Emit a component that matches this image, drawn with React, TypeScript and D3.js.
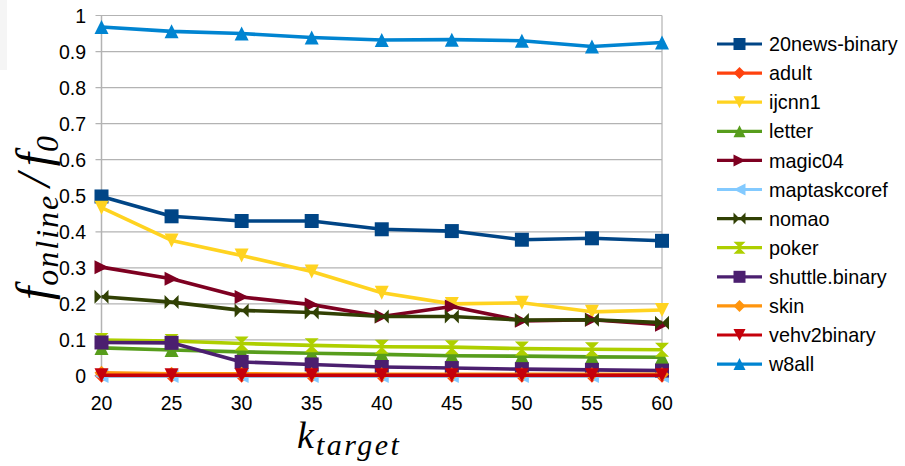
import React from "react";
import * as d3 from "d3";

const kTargets = [20, 25, 30, 35, 40, 45, 50, 55, 60];
const yTicks = [0, 0.1, 0.2, 0.3, 0.4, 0.5, 0.6, 0.7, 0.8, 0.9, 1];

const news20 = [0.498, 0.443, 0.43, 0.43, 0.407, 0.402, 0.378, 0.382, 0.375];
const adult = [0.001, 0.001, 0.001, 0.001, 0.001, 0.001, 0.001, 0.001, 0.001];
const ijcnn1 = [0.467, 0.376, 0.334, 0.29, 0.231, 0.2, 0.203, 0.178, 0.183];
const letter = [0.078, 0.072, 0.067, 0.063, 0.06, 0.056, 0.055, 0.053, 0.052];
const magic04 = [0.302, 0.27, 0.219, 0.198, 0.165, 0.193, 0.153, 0.156, 0.142];
const maptaskcoref = [0, 0, 0, 0, 0, 0, 0, 0, 0];
const nomao = [0.22, 0.205, 0.182, 0.176, 0.165, 0.165, 0.155, 0.156, 0.148];
const poker = [0.1, 0.097, 0.09, 0.085, 0.081, 0.08, 0.076, 0.074, 0.073];
const shuttle = [0.093, 0.092, 0.039, 0.032, 0.025, 0.022, 0.019, 0.017, 0.015];
const skin = [0.009, 0.006, 0.006, 0.005, 0.005, 0.005, 0.005, 0.005, 0.005];
const vehv2binary = [0.002, 0.002, 0.002, 0.002, 0.002, 0.002, 0.002, 0.002, 0.002];
const w8all = [0.968, 0.956, 0.95, 0.939, 0.932, 0.933, 0.93, 0.914, 0.925];

type Shape = "square" | "diamond" | "triDown" | "triUp" | "triRight" | "triLeft" | "bowtieH" | "bowtieV";

const series: { name: string; values: number[]; color: string; shape: Shape }[] = [
  { name: "20news-binary", values: news20, color: "#004586", shape: "square" },
  { name: "adult", values: adult, color: "#ff420e", shape: "diamond" },
  { name: "ijcnn1", values: ijcnn1, color: "#ffd320", shape: "triDown" },
  { name: "letter", values: letter, color: "#579d1c", shape: "triUp" },
  { name: "magic04", values: magic04, color: "#7e0021", shape: "triRight" },
  { name: "maptaskcoref", values: maptaskcoref, color: "#83caff", shape: "triLeft" },
  { name: "nomao", values: nomao, color: "#314004", shape: "bowtieH" },
  { name: "poker", values: poker, color: "#aecf00", shape: "bowtieV" },
  { name: "shuttle.binary", values: shuttle, color: "#4b1f6f", shape: "square" },
  { name: "skin", values: skin, color: "#ff950e", shape: "diamond" },
  { name: "vehv2binary", values: vehv2binary, color: "#c5000b", shape: "triDown" },
  { name: "w8all", values: w8all, color: "#0084d1", shape: "triUp" },
];

function markerPath(shape: Shape, s: number): string {
  const h = s / 2;
  switch (shape) {
    case "square":
      return `M${-h},${-h}H${h}V${h}H${-h}Z`;
    case "diamond":
      return `M0,${-h}L${h},0L0,${h}L${-h},0Z`;
    case "triDown":
      return `M${-h},${-h}H${h}L0,${h}Z`;
    case "triUp":
      return `M${-h},${h}H${h}L0,${-h}Z`;
    case "triRight":
      return `M${-h},${-h}L${h},0L${-h},${h}Z`;
    case "triLeft":
      return `M${h},${-h}L${-h},0L${h},${h}Z`;
    case "bowtieH":
      return `M${-h},${-h}L0,0L${-h},${h}ZM${h},${-h}L0,0L${h},${h}Z`;
    case "bowtieV":
      return `M${-h},${-h}H${h}L0,0ZM${-h},${h}H${h}L0,0Z`;
  }
}

const W = 905;
const H = 466;
const left = 101.5;
const right = 662;
const top = 15.5;
const bottom = 376;

export default function App() {
  const x = d3.scaleLinear().domain([20, 60]).range([left, right]);
  const y = d3.scaleLinear().domain([0, 1]).range([bottom, top]);
  const line = d3
    .line<number>()
    .x((_, i) => x(kTargets[i]))
    .y((v) => y(v));

  const font = "'Liberation Sans', Arial, sans-serif";
  const mathFont = "'Liberation Serif', 'Times New Roman', serif";
  const legendX = 717;
  const legendY0 = 44;
  const legendStep = 29.1;

  return (
    <svg
      width={W}
      height={H}
      style={{ position: "fixed", left: 0, top: 0, background: "#fff" }}
      xmlns="http://www.w3.org/2000/svg"
    >
      <rect x={0} y={0} width={W} height={H} fill="#fff" />
      <rect x={0} y={0} width={7} height={70} fill="#f5f5f5" />

      {/* grid and y ticks */}
      {yTicks.map((t) => (
        <g key={t}>
          <line x1={left - 6} x2={right} y1={y(t)} y2={y(t)} stroke="#b3b3b3" strokeWidth={1.2} />
          <text
            x={86}
            y={y(t)}
            dy="0.36em"
            textAnchor="end"
            fontFamily={font}
            fontSize={19.5}
            fill="#000"
          >
            {d3.format("")(t)}
          </text>
        </g>
      ))}
      <line x1={left} x2={left} y1={top} y2={bottom} stroke="#b3b3b3" strokeWidth={1.5} />
      <line x1={right} x2={right} y1={top} y2={bottom} stroke="#b3b3b3" strokeWidth={1.2} />

      {/* x tick labels */}
      {kTargets.map((k) => (
        <text
          key={k}
          x={x(k)}
          y={410}
          textAnchor="middle"
          fontFamily={font}
          fontSize={19.5}
          fill="#000"
        >
          {k}
        </text>
      ))}

      {/* series */}
      {series.map((s) => (
        <g key={s.name}>
          <path d={line(s.values) || ""} fill="none" stroke={s.color} strokeWidth={3.6} strokeLinejoin="round" />
          {s.values.map((v, i) => (
            <path
              key={i}
              d={markerPath(s.shape, 14)}
              transform={`translate(${x(kTargets[i])},${y(v)})`}
              fill={s.color}
            />
          ))}
        </g>
      ))}

      {/* legend */}
      {series.map((s, i) => {
        const ly = legendY0 + i * legendStep;
        return (
          <g key={s.name}>
            <line x1={legendX} x2={legendX + 45} y1={ly} y2={ly} stroke={s.color} strokeWidth={3.2} />
            <path d={markerPath(s.shape, 12)} transform={`translate(${legendX + 22.5},${ly})`} fill={s.color} />
            <text x={769} y={ly} dy="0.36em" fontFamily={font} fontSize={19.8} fill="#000">
              {s.name}
            </text>
          </g>
        );
      })}

      {/* axis titles */}
      <text x={297} y={448} fontFamily={mathFont} fontStyle="italic" fill="#000">
        <tspan fontSize={38}>k</tspan>
        <tspan fontSize={30} dy={7} dx={2} letterSpacing={2.5}>target</tspan>
      </text>
      <text
        transform="translate(50,300) rotate(-90)"
        fontFamily={mathFont}
        fontStyle="italic"
        fill="#000"
      >
        <tspan fontSize={48}>f</tspan>
        <tspan fontSize={32} dy={8} dx={1} letterSpacing={2}>online</tspan>
        <tspan fontSize={48} dy={-8} dx={7}>/</tspan>
        <tspan fontSize={48} dx={7}>f</tspan>
        <tspan fontSize={32} dy={8} dx={1}>0</tspan>
      </text>
    </svg>
  );
}
